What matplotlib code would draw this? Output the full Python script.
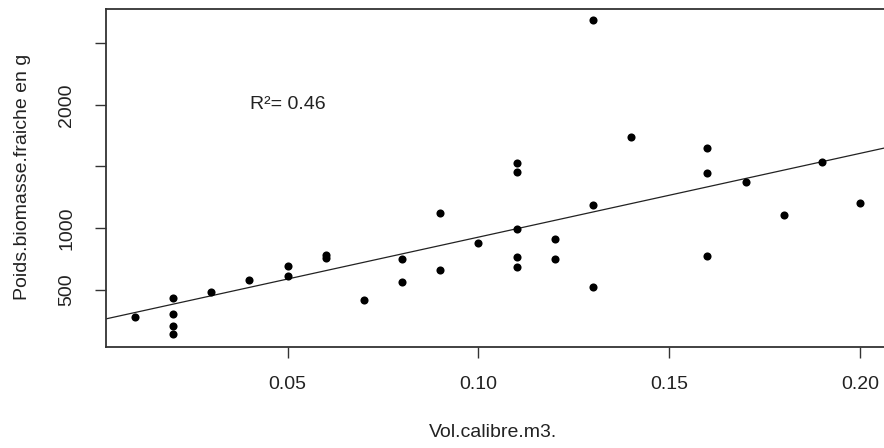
import numpy as np
import matplotlib
matplotlib.use('Agg')
import matplotlib.pyplot as plt

plt.rcParams['font.family'] = ['Liberation Sans', 'DejaVu Sans']

# volume (m3) and fresh biomass weight (g)
vol = [0.01,
       0.02, 0.02, 0.02, 0.02,
       0.03, 0.04,
       0.05, 0.05,
       0.06, 0.06,
       0.07,
       0.08, 0.08,
       0.09, 0.09,
       0.10,
       0.11, 0.11, 0.11, 0.11, 0.11,
       0.12, 0.12,
       0.13, 0.13, 0.13,
       0.14,
       0.16, 0.16, 0.16,
       0.17, 0.18, 0.19, 0.20]
poids = [276,
         430, 303, 203, 143,
         481, 576,
         689, 608,
         780, 755,
         419,
         751, 565,
         1119, 657,
         878,
         1528, 1456, 992, 765, 686,
         911, 751,
         2687, 1184, 522,
         1742,
         1651, 1445, 773,
         1376, 1108, 1533, 1203]

y_ticks = [500, 1000, 1500, 2000, 2500]
y_labels = ['500', '1000', '', '2000', '']
x_ticks = [0.05, 0.10, 0.15, 0.20]
x_labels = ['0.05', '0.10', '0.15', '0.20']

W, H = 884, 448
fig = plt.figure(figsize=(W / 100, H / 100), dpi=100)
ax = fig.add_axes([106 / W, 1 - 346.7 / H, (889 - 106) / W, (346.7 - 9) / H])

ax.scatter(vol, poids, s=34, color='black', zorder=3, linewidths=0)

# linear fit, drawn across the whole panel like abline()
slope, intercept = np.polyfit(vol, poids, 1)
xlim = (0.0024, 0.2076)
xs = np.array(xlim)
ax.plot(xs, intercept + slope * xs, color='#222222', lw=0.9)

ax.set_xlim(*xlim)
ax.set_ylim(37, 2778)

ax.set_xticks(x_ticks)
ax.set_xticklabels(x_labels)
ax.set_yticks(y_ticks)
ax.set_yticklabels(y_labels, rotation=90, va='center')
ax.tick_params(axis='both', direction='out', length=8, width=1,
               color='#333333', labelsize=14, labelcolor='#222222')
ax.tick_params(axis='x', pad=13)
ax.tick_params(axis='y', pad=14)

for sp in ax.spines.values():
    sp.set_color('#333333')
    sp.set_linewidth(1.3)

ax.text(0.05, 2000, 'R²= 0.46', ha='center', va='center', fontsize=14, color='#222222')

fig.text(23 / W, 1 - 177 / H, 'Poids.biomasse.fraiche en g', rotation=90,
         ha='center', va='center', fontsize=14, color='#222222')
fig.text(493 / W, 1 - 432 / H, 'Vol.calibre.m3.', ha='center', va='center',
         fontsize=14, color='#222222')

fig.savefig('out.png', dpi=100)
